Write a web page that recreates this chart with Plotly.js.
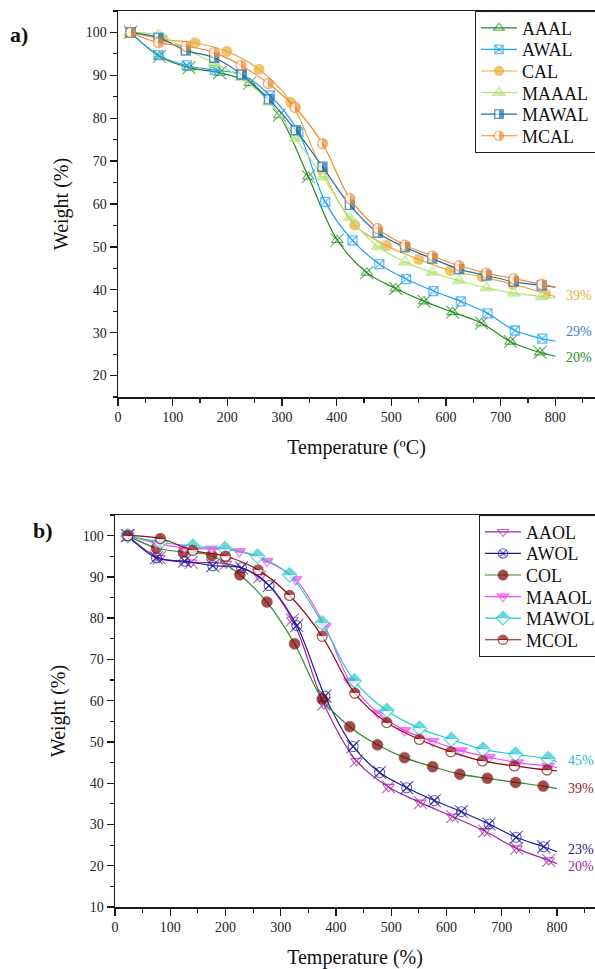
<!DOCTYPE html>
<html><head><meta charset="utf-8">
<script src="https://cdn.plot.ly/plotly-3.0.1.min.js"></script>
<style>html,body{margin:0;padding:0;background:#fff}#chart{width:595px;height:969px}</style>
</head><body><div id="chart"></div>
<script>
// ---------- Panel a data (Temperature °C, Weight %) ----------
const AAAL_x  = [23,76,130,186,241,295,348,401,455,508,560,612,665,718,772,800];
const AAAL_y  = [100,94.4,91.8,90.6,88.2,80.7,66.4,51.6,44.0,40.3,37.3,34.8,32.2,27.9,25.4,24.5];
const AWAL_x  = [23,74,126,177,226,278,330,379,429,478,527,577,627,676,726,776,800];
const AWAL_y  = [100,94.7,92.3,91.2,90.2,85.3,76.8,60.5,51.5,46.0,42.5,39.7,37.3,34.5,30.5,28.6,28.0];
const CAL_x   = [23,83,141,199,258,316,375,433,491,550,608,666,722,782,800];
const CAL_y   = [100,98.4,97.6,95.6,91.4,83.7,67.5,55.1,50.3,47.1,44.5,43.0,41.3,39.1,38.4];
const MAAAL_x = [23,74,125,176,226,276,325,375,424,475,525,575,624,674,724,775,800];
const MAAAL_y = [100,99.4,96.0,92.8,89.5,83.8,75.3,66.3,56.8,50.1,46.5,44.0,42.1,40.4,39.2,38.4,38.0];
const MAWAL_x = [23,74,124,176,226,276,325,374,424,475,525,575,624,674,724,775,800];
const MAWAL_y = [100,98.8,95.8,94.1,90.2,84.4,77.2,68.7,59.8,53.3,49.9,47.3,44.8,43.3,41.9,41.0,40.6];
const MCAL_x  = [23,74,124,176,225,275,324,374,424,475,525,575,624,674,724,775,800];
const MCAL_y  = [100,97.6,96.8,95.3,92.3,88.1,82.5,74.1,61.3,54.3,50.4,47.9,45.6,43.9,42.6,41.3,40.6];
const A_LABELS = ['39%','29%','20%'];

// ---------- Panel b data ----------
const AAOL_x  = [23,80,138,201,262,321,378,437,495,553,611,669,727,785,800];
const AAOL_y  = [100,94.6,93.5,93.2,90.0,79.6,59.2,45.4,39.1,35.3,31.9,28.4,24.2,21.3,20.5];
const AWOL_x  = [23,75,126,177,229,279,329,380,431,479,528,578,627,677,726,776,800];
const AWOL_y  = [100,94.6,93.8,92.7,92.2,87.9,78.2,61.1,48.9,42.6,38.9,35.8,33.1,30.1,26.9,24.6,23.4];
const COL_x   = [23,75,124,175,226,275,325,375,425,475,524,575,624,674,725,775,800];
const COL_y   = [100,97.0,96.0,95.2,90.5,83.9,73.8,60.4,53.7,49.3,46.2,44.0,42.2,41.2,40.2,39.3,38.7];
const MAAOL_x = [23,75,126,175,225,275,327,380,425,476,524,575,626,677,728,784,800];
const MAAOL_y = [100,98.2,97.0,96.8,96.2,93.8,89.4,78.0,64.7,57.0,52.8,50.2,47.9,46.3,45.0,44.2,43.8];
const MAWOL_x = [23,82,141,199,258,316,375,433,492,551,609,666,725,784,800];
const MAWOL_y = [100,98.4,97.4,96.8,95.0,90.5,78.8,64.8,57.6,53.3,50.6,48.2,47.0,45.9,45.2];
const MCOL_x  = [23,82,141,200,259,316,375,434,492,551,608,665,723,782,800];
const MCOL_y  = [100,99.3,96.4,95.0,91.7,85.5,75.6,61.8,54.7,50.6,47.6,45.4,44.2,43.2,43.0];
const B_LABELS = ['45%','39%','23%','20%'];

const FONT = 'Liberation Serif, Times New Roman, serif';
const L = 115, R = 0, T = 11, B = 62, W = 595, H = 969;
const pw = W - L - R, ph = H - T - B;
const px2x = p => (p - L) / pw;
const py2y = p => (H - B - p) / ph;

function sizes(n, s) { const a = new Array(n).fill(s); a[n - 1] = 0; return a; }
function series(name, xs, ys, color, mk, xa, ya, lg, lineColor) {
  const m = Object.assign({}, mk);
  m.size = sizes(xs.length, mk.size || 10);
  return {type:'scatter', mode:'lines+markers', name, x:xs, y:ys, xaxis:xa, yaxis:ya, legend:lg,
    line:{color: lineColor || color, width:1.2, shape:'spline', smoothing:1},
    marker:m, hoverinfo:'x+y+name'};
}
function overlay(xs, ys, color, symbol, size, xa, ya) {
  return {type:'scatter', mode:'markers', x:xs, y:ys, xaxis:xa, yaxis:ya, showlegend:false, hoverinfo:'skip',
    marker:{symbol, size:sizes(xs.length, size), color, line:{color, width:1.1}}};
}

const c = {
  AAAL:'#1e8c1e', AWAL:'#27a2f2', CAL:'#e9ad35', MAAAL:'#b6e47d', MAWAL:'#1c6db0', MCAL:'#f28a35',
  AAOL:'#a3249f', AWOL:'#1c1c9c', COLl:'#2a8c2a', COLm:'#7d0000', MAAOL:'#ef4cf0', MAWOL:'#25c9cf', MCOL:'#8b1010'
};

const data = [
  series('AAAL', AAAL_x, AAAL_y, c.AAAL, {symbol:'triangle-up-open', size:10, color:c.AAAL, line:{color:c.AAAL, width:1.1}}, 'x', 'y', 'legend'),
  overlay(AAAL_x, AAAL_y, c.AAAL, 'x-thin-open', 13, 'x', 'y'),
  series('AWAL', AWAL_x, AWAL_y, c.AWAL, {symbol:'square-x-open', size:9, color:c.AWAL, line:{color:c.AWAL, width:1.3}}, 'x', 'y', 'legend'),
  series('CAL', CAL_x, CAL_y, c.CAL, {symbol:'circle', size:11, color:c.CAL, line:{color:c.CAL, width:0}}, 'x', 'y', 'legend'),
  series('MAAAL', MAAAL_x, MAAAL_y, c.MAAAL, {symbol:'triangle-up', size:11, color:'#ffffff', gradient:{type:'vertical', color:c.MAAAL}, line:{color:c.MAAAL, width:1.5}}, 'x', 'y', 'legend'),
  series('MAWAL', MAWAL_x, MAWAL_y, c.MAWAL, {symbol:'square', size:9, color:'#ffffff', gradient:{type:'horizontal', color:c.MAWAL}, line:{color:c.MAWAL, width:1.4}}, 'x', 'y', 'legend'),
  series('MCAL', MCAL_x, MCAL_y, c.MCAL, {symbol:'circle', size:10, color:'#ffffff', gradient:{type:'horizontal', color:c.MCAL}, line:{color:c.MCAL, width:1.3}}, 'x', 'y', 'legend'),

  series('AAOL', AAOL_x, AAOL_y, c.AAOL, {symbol:'triangle-down-open', size:10, color:c.AAOL, line:{color:c.AAOL, width:1.1}}, 'x2', 'y2', 'legend2'),
  overlay(AAOL_x, AAOL_y, c.AAOL, 'x-thin-open', 13, 'x2', 'y2'),
  series('AWOL', AWOL_x, AWOL_y, c.AWOL, {symbol:'circle-x-open', size:10, color:c.AWOL, line:{color:c.AWOL, width:1.1}}, 'x2', 'y2', 'legend2'),
  overlay(AWOL_x, AWOL_y, c.AWOL, 'x-thin-open', 13, 'x2', 'y2'),
  series('COL', COL_x, COL_y, c.COLm, {symbol:'circle', size:11, color:c.COLm, line:{color:c.COLm, width:0.5}}, 'x2', 'y2', 'legend2', c.COLl),
  series('MAAOL', MAAOL_x, MAAOL_y, c.MAAOL, {symbol:'triangle-down', size:11, color:c.MAAOL, gradient:{type:'vertical', color:'#ffffff'}, line:{color:c.MAAOL, width:1.3}}, 'x2', 'y2', 'legend2'),
  series('MAWOL', MAWOL_x, MAWOL_y, c.MAWOL, {symbol:'diamond', size:11, color:c.MAWOL, gradient:{type:'vertical', color:'#ffffff'}, line:{color:c.MAWOL, width:1.3}}, 'x2', 'y2', 'legend2'),
  series('MCOL', MCOL_x, MCOL_y, c.MCOL, {symbol:'circle', size:10, color:c.MCOL, gradient:{type:'vertical', color:'#ffffff'}, line:{color:c.MCOL, width:1.3}}, 'x2', 'y2', 'legend2')
];

const axisCommon = {
  showline:true, linecolor:'#1a1a1a', linewidth:1.5, mirror:true,
  ticks:'outside', ticklen:7, tickwidth:1.4, tickcolor:'#1a1a1a',
  tickfont:{family:FONT, size:14, color:'#222'},
  showgrid:false, zeroline:false
};
const titleFont = {family:FONT, size:20, color:'#111'};
const legendBase = {xanchor:'left', yanchor:'top', bordercolor:'#222', borderwidth:1, bgcolor:'#fff',
  font:{family:FONT, size:14.3, color:'#111'}, itemwidth:36, tracegroupgap:0};

const layout = {
  width:W, height:H, margin:{l:L, r:R, t:T, b:B, autoexpand:false}, paper_bgcolor:'#fff', plot_bgcolor:'#fff',
  font:{family:FONT, color:'#222'}, showlegend:true,
  xaxis: Object.assign({}, axisCommon, {domain:[px2x(118), 1], anchor:'y', range:[0, 872.5], tick0:0, dtick:100,
    minor:{ticks:'outside', ticklen:4, tickwidth:1.2, tickcolor:'#1a1a1a', dtick:50, showgrid:false},
    title:{text:'Temperature (ºC)', font:titleFont, standoff:15}}),
  yaxis: Object.assign({}, axisCommon, {domain:[py2y(397), 1], anchor:'x', range:[15, 105], tick0:0, dtick:10,
    minor:{ticks:'outside', ticklen:4, tickwidth:1.2, tickcolor:'#1a1a1a', dtick:5, showgrid:false},
    title:{text:'Weight (%)', font:titleFont, standoff:11}}),
  xaxis2: Object.assign({}, axisCommon, {domain:[0, 1], anchor:'y2', range:[0, 868.8], tick0:0, dtick:100,
    minor:{ticks:'outside', ticklen:4, tickwidth:1.2, tickcolor:'#1a1a1a', dtick:50, showgrid:false},
    title:{text:'Temperature (%)', font:titleFont, standoff:15}}),
  yaxis2: Object.assign({}, axisCommon, {domain:[0, py2y(515)], anchor:'x2', range:[10, 105], tick0:0, dtick:10,
    minor:{ticks:'outside', ticklen:4, tickwidth:1.2, tickcolor:'#1a1a1a', dtick:5, showgrid:false},
    title:{text:'Weight (%)', font:titleFont, standoff:11}}),
  legend: Object.assign({}, legendBase, {x:px2x(475), y:1}),
  legend2: Object.assign({}, legendBase, {x:px2x(479), y:py2y(515)}),
  annotations: [
    {xref:'paper', yref:'paper', x:px2x(8), y:py2y(34), xanchor:'left', yanchor:'middle', showarrow:false,
     text:'<b>a)</b>', font:{family:FONT, size:22, color:'#111'}},
    {xref:'paper', yref:'paper', x:px2x(31), y:py2y(530), xanchor:'left', yanchor:'middle', showarrow:false,
     text:'<b>b)</b>', font:{family:FONT, size:22, color:'#111'}},
    {xref:'x', yref:'y', x:815, y:38.7, xanchor:'left', yanchor:'middle', showarrow:false, text:A_LABELS[0], font:{family:FONT, size:14, color:'#e8b040'}},
    {xref:'x', yref:'y', x:815, y:30.3, xanchor:'left', yanchor:'middle', showarrow:false, text:A_LABELS[1], font:{family:FONT, size:14, color:'#3a82c8'}},
    {xref:'x', yref:'y', x:815, y:24.1, xanchor:'left', yanchor:'middle', showarrow:false, text:A_LABELS[2], font:{family:FONT, size:14, color:'#1e8c1e'}},
    {xref:'x2', yref:'y2', x:817, y:45.4, xanchor:'left', yanchor:'middle', showarrow:false, text:B_LABELS[0], font:{family:FONT, size:14, color:'#22c4cc'}},
    {xref:'x2', yref:'y2', x:817, y:38.6, xanchor:'left', yanchor:'middle', showarrow:false, text:B_LABELS[1], font:{family:FONT, size:14, color:'#9b1a1a'}},
    {xref:'x2', yref:'y2', x:817, y:23.9, xanchor:'left', yanchor:'middle', showarrow:false, text:B_LABELS[2], font:{family:FONT, size:14, color:'#1c1c9c'}},
    {xref:'x2', yref:'y2', x:817, y:19.7, xanchor:'left', yanchor:'middle', showarrow:false, text:B_LABELS[3], font:{family:FONT, size:14, color:'#a3249f'}}
  ]
};

function hardenGradients() {
  const NS = 'http://www.w3.org/2000/svg';
  document.querySelectorAll('linearGradient').forEach(g => {
    const stops = g.querySelectorAll('stop');
    if (stops.length !== 2) return;
    const c0 = stops[0].getAttribute('stop-color'), o0 = stops[0].getAttribute('stop-opacity') || '1';
    const c1 = stops[1].getAttribute('stop-color'), o1 = stops[1].getAttribute('stop-opacity') || '1';
    stops.forEach(s => s.remove());
    [[0, c0, o0], [0.5, c0, o0], [0.5, c1, o1], [1, c1, o1]].forEach(([off, col, op]) => {
      const s = document.createElementNS(NS, 'stop');
      s.setAttribute('offset', off); s.setAttribute('stop-color', col); s.setAttribute('stop-opacity', op);
      g.appendChild(s);
    });
  });
}
// legend rows are spaced for ~14px text; the reference uses larger 18px legend text and its box runs off the right edge
function styleLegends() {
  const ty = (0.3 * 1.3 * 18).toFixed(2);
  document.querySelectorAll('g').forEach(g => {
    const cls = (g.getAttribute('class') || '').trim();
    if (!/^legend\d*$/.test(cls)) return;
    g.querySelectorAll('text').forEach(t => {
      if (t.style.fontSize !== '18px') t.style.fontSize = '18px';
      if (t.getAttribute('y') !== ty) t.setAttribute('y', ty);
    });
    Array.from(g.children).forEach(ch => {
      if (ch.tagName.toLowerCase() === 'rect' && ch.getAttribute('width') !== '220') ch.setAttribute('width', 220);
    });
    g.querySelectorAll('[clip-path]').forEach(el => {
      const m = (el.getAttribute('clip-path') || '').match(/#([^)'"]+)/);
      const cp = m && document.getElementById(m[1]);
      if (cp) cp.querySelectorAll('rect').forEach(r => { if (r.getAttribute('width') !== '300') r.setAttribute('width', 300); });
    });
  });
}
function finish() { hardenGradients(); styleLegends(); }

const gd = document.getElementById('chart');
const obs = new MutationObserver(() => finish());
obs.observe(document.body, {childList:true, subtree:true});
Plotly.newPlot(gd, data, layout, {staticPlot:true}).then(() => {
  finish();
  gd.on && gd.on('plotly_afterplot', finish);
  [0, 50, 150, 400, 900].forEach(t => setTimeout(finish, t));
});
</script>
</body></html>
